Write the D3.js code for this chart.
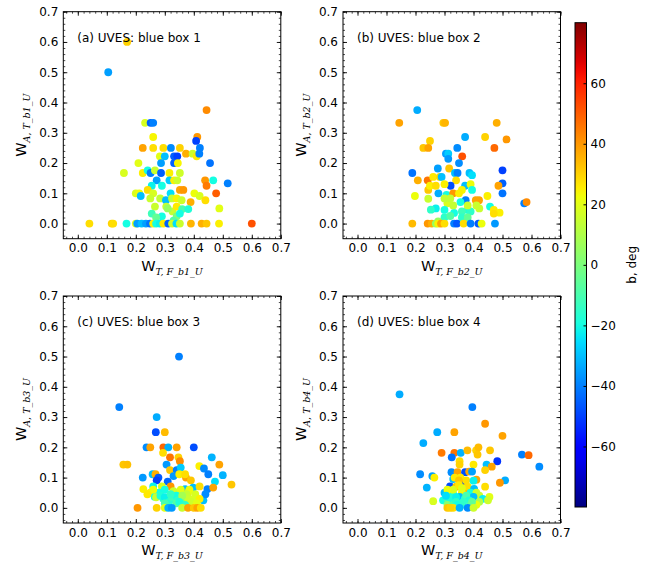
<!DOCTYPE html>
<html>
<head>
<meta charset="utf-8">
<script src="https://cdn.jsdelivr.net/npm/d3@7"></script>
<style>
  body { margin: 0; background: #fff; }
  svg text { font-family: "DejaVu Sans", sans-serif; fill: #000; }
</style>
</head>
<body>
<div id="chart"></div>
<script>
// [W_T,F , W_A,T , b (deg)]
const boxA = [
  [0.17,0.6,30],[0.105,0.5,-35],[0.444,0.375,42],
  [0.232,0.333,18],[0.251,0.333,-45],[0.26,0.333,-40],
  [0.26,0.286,24],[0.412,0.286,40],[0.408,0.273,-50],
  [0.224,0.25,38],[0.26,0.25,28],[0.295,0.25,28],[0.321,0.25,-38],[0.352,0.25,30],[0.421,0.25,-40],
  [0.283,0.222,20],[0.3,0.222,-30],[0.332,0.222,-45],[0.343,0.222,-50],[0.373,0.231,36],[0.396,0.231,16],[0.41,0.222,26],[0.419,0.231,-40],
  [0.209,0.2,20],[0.287,0.2,-35],[0.332,0.2,-45],[0.345,0.2,24],[0.456,0.2,-42],
  [0.159,0.167,18],[0.224,0.167,25],[0.241,0.176,-20],[0.251,0.167,-40],[0.266,0.176,15],[0.287,0.167,-45],[0.316,0.167,25],[0.352,0.167,16],
  [0.272,0.143,-35],[0.316,0.143,-28],[0.332,0.143,25],[0.343,0.143,15],[0.439,0.143,40],[0.467,0.143,-20],
  [0.444,0.125,45],[0.517,0.133,-40],[0.255,0.125,-22],[0.29,0.125,-20],
  [0.241,0.111,28],[0.352,0.111,38],[0.364,0.111,40],[0.2,0.1,18],[0.212,0.1,22],[0.217,0.091,-30],[0.477,0.1,50],[0.402,0.1,22],[0.32,0.1,-25],[0.26,0.1,18],
  [0.25,0.083,15],[0.284,0.083,14],[0.304,0.077,-30],[0.325,0.083,14],[0.341,0.083,24],[0.358,0.077,16],[0.389,0.071,36],[0.42,0.091,18],[0.44,0.077,28],[0.488,0.05,20],
  [0.266,0.056,15],[0.255,0.033,-12],[0.305,0.056,14],[0.327,0.04,14],[0.341,0.056,26],[0.36,0.048,-10],[0.381,0.048,-18],
  [0.29,0.024,-20],[0.341,0.024,0],[0.352,0.033,-20],[0.31,0.05,5],[0.27,0.02,-5],[0.33,0.01,-8],
  [0.04,0,28],[0.117,0,30],[0.122,0,28],[0.168,0,-20],[0.2,0,20],[0.205,0,-35],[0.22,0,-30],[0.235,0,-35],[0.249,0,-42],[0.26,0,25],[0.27,0,-20],
  [0.283,0,-22],[0.295,0,26],[0.312,0,-45],[0.325,0,16],[0.34,0,-25],[0.352,0,15],[0.39,0,35],[0.427,0,36],[0.444,0,32],[0.487,0,25],[0.6,0,52]
];

const boxB = [
  [0.206,0.375,-33],[0.144,0.333,38],[0.296,0.333,32],[0.302,0.333,35],[0.48,0.333,36],
  [0.25,0.273,30],[0.371,0.286,-33],[0.44,0.286,30],[0.514,0.278,40],
  [0.227,0.25,32],[0.244,0.25,38],[0.344,0.25,-38],[0.472,0.25,48],
  [0.305,0.231,-35],[0.313,0.231,-28],[0.313,0.214,-36],[0.361,0.222,52],[0.35,0.2,-38],
  [0.277,0.182,-35],[0.316,0.182,32],[0.189,0.167,-42],[0.336,0.167,-30],[0.345,0.167,-40],[0.386,0.167,-30],[0.395,0.16,-25],[0.5,0.176,-50],
  [0.208,0.143,36],[0.242,0.143,46],[0.261,0.154,26],[0.284,0.154,28],[0.29,0.154,-30],[0.34,0.143,28],[0.5,0.133,-45],[0.486,0.125,38],
  [0.244,0.111,32],[0.321,0.125,-48],[0.371,0.125,-30],[0.39,0.13,22],[0.5,0.1,-42],[0.448,0.091,25],[0.198,0.091,22],[0.244,0.082,15],[0.279,0.1,-33],
  [0.25,0.125,25],[0.27,0.125,28],[0.3,0.13,25],[0.36,0.111,24],[0.395,0.111,-20],
  [0.307,0.095,-20],[0.33,0.1,40],[0.35,0.1,25],[0.373,0.077,-40],[0.408,0.077,38],[0.419,0.077,38],[0.575,0.067,-40],[0.583,0.071,42],
  [0.27,0.05,-22],[0.31,0.067,18],[0.355,0.071,-20],[0.38,0.045,-18],[0.457,0.056,-20],[0.47,0.045,26],[0.49,0.036,25],
  [0.253,0.046,-15],[0.3,0.045,-20],[0.333,0.035,-20],[0.36,0.04,-12],[0.39,0.04,-15],[0.42,0.05,15],[0.47,0.033,28],
  [0.3,0.02,-15],[0.32,0.025,-8],[0.36,0.02,-15],[0.278,0.007,5],[0.38,0.02,-5],[0.33,0.06,14],[0.38,0.06,16],[0.41,0.06,15],[0.3,0.083,14],[0.32,0.083,14],
  [0.189,0,34],[0.242,0,40],[0.256,0,36],[0.27,0,5],[0.278,0,24],[0.288,0,38],[0.3,0,28],[0.333,0,-40],[0.343,0,-46],[0.366,0,28],
  [0.39,0,-40],[0.417,0,-46],[0.428,0,22],[0.474,0,-36]
];

const boxC = [
  [0.349,0.5,-40],[0.143,0.333,-40],[0.272,0.3,-33],[0.269,0.25,-48],[0.3,0.25,34],
  [0.237,0.2,-38],[0.25,0.2,38],[0.295,0.2,48],[0.312,0.2,-32],[0.341,0.2,38],[0.4,0.2,-48],
  [0.294,0.182,28],[0.318,0.167,46],[0.347,0.167,30],[0.352,0.154,42],[0.462,0.167,-32],[0.488,0.143,38],
  [0.157,0.143,32],[0.171,0.143,33],[0.306,0.143,-36],[0.318,0.125,32],[0.341,0.125,-40],[0.355,0.133,-28],[0.419,0.138,25],[0.435,0.13,-38],[0.45,0.111,-40],[0.5,0.108,-32],
  [0.224,0.1,-36],[0.258,0.111,-30],[0.268,0.111,36],[0.278,0.1,-46],[0.272,0.091,-50],[0.31,0.087,-44],[0.33,0.105,-36],[0.373,0.1,38],[0.39,0.091,32],[0.35,0.111,25],[0.37,0.111,28],
  [0.473,0.087,-25],[0.53,0.077,32],
  [0.226,0.062,25],[0.26,0.071,-22],[0.29,0.071,18],[0.32,0.071,40],[0.37,0.062,-30],[0.398,0.067,-30],[0.42,0.071,28],[0.447,0.062,-40],[0.467,0.067,38],[0.433,0.025,-30],[0.44,0.045,-38],
  [0.25,0.05,24],[0.265,0.037,-20],[0.28,0.05,-20],[0.3,0.06,-20],[0.35,0.05,18],[0.38,0.05,25],
  [0.26,0.06,22],[0.24,0.045,26],[0.33,0.055,16],[0.355,0.06,20],[0.385,0.06,22],[0.405,0.045,18],[0.375,0.045,14],
  [0.27,0.035,15],[0.295,0.03,-15],[0.31,0.03,-18],[0.33,0.03,-10],[0.36,0.03,-5],[0.38,0.03,15],[0.4,0.03,18],[0.42,0.03,25],
  [0.285,0.04,-18],[0.3,0.035,-22],[0.315,0.02,-16],[0.325,0.035,-12],[0.34,0.04,-20],[0.345,0.025,-15],[0.36,0.04,8],[0.39,0.02,16],[0.41,0.015,20],
  [0.3,0.015,-10],[0.34,0.015,-8],[0.35,0.02,-18],[0.37,0.01,-15],[0.32,0.045,-14],
  [0.206,0,40],[0.272,0,30],[0.3,0,20],[0.312,0,-32],[0.324,0,-36],[0.36,0,15],[0.38,0,38],[0.4,0,32],[0.412,0,38],[0.424,0,28]
];

const boxD = [
  [0.145,0.375,-33],[0.396,0.333,-40],[0.44,0.278,40],[0.5,0.238,38],[0.275,0.25,-33],[0.334,0.25,38],
  [0.227,0.214,-33],[0.29,0.182,45],[0.334,0.182,46],[0.356,0.182,-32],[0.379,0.19,34],[0.409,0.19,30],[0.417,0.2,34],[0.414,0.176,32],[0.457,0.19,32],[0.567,0.176,-40],[0.59,0.174,48],[0.627,0.136,-38],
  [0.325,0.167,-42],[0.352,0.154,28],[0.352,0.143,30],[0.4,0.143,26],[0.445,0.143,-30],[0.482,0.154,-52],[0.463,0.136,38],[0.44,0.125,30],
  [0.216,0.111,-38],[0.258,0.105,-35],[0.265,0.1,25],[0.324,0.118,-38],[0.345,0.118,38],[0.371,0.118,-48],[0.385,0.12,38],[0.395,0.12,-35],[0.41,0.093,38],[0.509,0.091,-33],[0.491,0.083,40],
  [0.239,0.067,-32],[0.319,0.071,-48],[0.33,0.095,-30],[0.363,0.083,-48],[0.34,0.07,32],[0.37,0.065,38],[0.38,0.07,28],[0.402,0.063,-30],[0.44,0.07,28],[0.335,0.1,26],[0.355,0.1,26],[0.375,0.091,28],[0.35,0.091,32],[0.4,0.09,-22],
  [0.3,0.05,-30],[0.32,0.05,25],[0.33,0.045,-20],[0.36,0.05,24],[0.39,0.05,-20],[0.41,0.05,16],[0.455,0.036,20],
  [0.33,0.06,18],[0.35,0.075,26],[0.31,0.06,22],[0.36,0.065,20],[0.42,0.04,15],
  [0.261,0.022,18],[0.295,0.025,-20],[0.31,0.03,-10],[0.352,0.036,-30],[0.37,0.03,-20],[0.4,0.036,-30],[0.432,0.03,-22],[0.45,0.025,16],
  [0.32,0.03,-18],[0.34,0.035,-22],[0.305,0.04,-25],[0.375,0.04,-10],[0.385,0.025,-18],[0.42,0.02,10],
  [0.31,0.01,2],[0.33,0.01,-8],[0.36,0.01,-18],[0.39,0.01,-8],[0.41,0.01,22],[0.34,0.02,-15],[0.345,0.01,-20],[0.365,0.02,-15],[0.395,0.02,-5],
  [0.31,0,32],[0.33,0,28],[0.352,0,-32],[0.38,0,-38],[0.4,0,16],[0.32,0,30]
];

const panelTitles = ['(a) UVES: blue box 1', '(b) UVES: blue box 2', '(c) UVES: blue box 3', '(d) UVES: blue box 4'];
const boxTags = ['b1', 'b2', 'b3', 'b4'];
const axisTicks = [0.0, 0.1, 0.2, 0.3, 0.4, 0.5, 0.6, 0.7];
const colorTicks = [-60, -40, -20, 0, 20, 40, 60];
const bRange = [-80, 80];

const W = 659, H = 566;
const svg = d3.select('#chart').append('svg').attr('width', W).attr('height', H);

// matplotlib 'jet' segment data
const jetR = d3.scaleLinear().domain([0, 0.35, 0.66, 0.89, 1]).range([0, 0, 1, 1, 0.5]).clamp(true);
const jetG = d3.scaleLinear().domain([0, 0.125, 0.375, 0.64, 0.91, 1]).range([0, 0, 1, 1, 0, 0]).clamp(true);
const jetB = d3.scaleLinear().domain([0, 0.11, 0.34, 0.65, 1]).range([0.5, 1, 1, 0, 0]).clamp(true);
const jet = t => d3.rgb(jetR(t) * 255, jetG(t) * 255, jetB(t) * 255).toString();
const norm = d3.scaleLinear().domain(bRange).range([0, 1]).clamp(true);
const color = b => jet(norm(b));

const cols = [63.3, 343];
const rows = [11.7, 296];
const pw = 217.5, ph = 227;
const minorTicks = d3.range(-0.04, 0.7001, 0.02);

function subLabel(sel, sub) {
  sel.append('tspan').attr('font-size', 14.5).text('W');
  sel.append('tspan')
    .attr('font-family', '"DejaVu Serif", serif')
    .attr('font-style', 'italic')
    .attr('font-size', 9.5)
    .attr('dy', 4)
    .text(sub);
}

[boxA, boxB, boxC, boxD].forEach((data, i) => {
  const x0 = cols[i % 2], y0 = rows[Math.floor(i / 2)];
  const g = svg.append('g').attr('transform', `translate(${x0},${y0})`);
  const x = d3.scaleLinear().domain([-0.05, 0.7]).range([0, pw]);
  const y = d3.scaleLinear().domain([-0.05, 0.7]).range([ph, 0]);

  // points
  g.append('g').selectAll('circle')
    .data(data)
    .join('circle')
    .attr('cx', d => x(d[0]))
    .attr('cy', d => y(d[1]))
    .attr('r', 3.9)
    .attr('fill', d => color(d[2]));

  // inward ticks on all four sides
  const fmt = d3.format('.1f');
  const sides = [
    { ax: d3.axisBottom(x), tr: `translate(0,${ph})`, lab: true },
    { ax: d3.axisLeft(y), tr: null, lab: true },
    { ax: d3.axisTop(x), tr: null, lab: false },
    { ax: d3.axisRight(y), tr: `translate(${pw},0)`, lab: false }
  ];
  sides.forEach(s => {
    const maj = g.append('g').attr('transform', s.tr)
      .call(s.ax.tickValues(axisTicks).tickSize(-4).tickPadding(5)
        .tickFormat(s.lab ? fmt : ''));
    maj.select('.domain').remove();
    maj.selectAll('text').attr('font-size', 12).attr('font-family', '"DejaVu Sans", sans-serif');
    maj.selectAll('line').attr('stroke', '#000').attr('stroke-width', 0.9);
    const mnr = g.append('g').attr('transform', s.tr)
      .call(s.ax.tickValues(minorTicks).tickSize(-2).tickFormat(''));
    mnr.select('.domain').remove();
    mnr.selectAll('line').attr('stroke', '#000').attr('stroke-width', 0.7);
  });

  g.append('rect').attr('width', pw).attr('height', ph)
    .attr('fill', 'none').attr('stroke', '#000').attr('stroke-width', 1);

  g.append('text').attr('x', 14).attr('y', 30).attr('font-size', 12).text(panelTitles[i]);

  const xl = g.append('text').attr('x', pw / 2).attr('y', ph + 32).attr('text-anchor', 'middle');
  subLabel(xl, `T, F_${boxTags[i]}_U`);

  const yl = g.append('text')
    .attr('transform', `translate(${-37},${ph / 2}) rotate(-90)`)
    .attr('text-anchor', 'middle');
  subLabel(yl, `A, T_${boxTags[i]}_U`);
});

// colorbar
const cbX = 575, cbW = 11.5, cbTop = 22.7, cbBot = 507;
const grad = svg.append('defs').append('linearGradient')
  .attr('id', 'jetgrad').attr('x1', 0).attr('y1', 1).attr('x2', 0).attr('y2', 0);
grad.selectAll('stop')
  .data(d3.range(0, 1.0001, 0.02))
  .join('stop')
  .attr('offset', d => d)
  .attr('stop-color', d => jet(d));

const cb = d3.scaleLinear().domain(bRange).range([cbBot, cbTop]);
svg.append('rect').attr('x', cbX).attr('y', cbTop).attr('width', cbW).attr('height', cbBot - cbTop)
  .attr('fill', 'url(#jetgrad)').attr('stroke', '#000').attr('stroke-width', 1);

const cbAxis = svg.append('g').attr('transform', `translate(${cbX + cbW},0)`)
  .call(d3.axisRight(cb).tickValues(colorTicks).tickSize(-3).tickPadding(4)
    .tickFormat(d => d < 0 ? '\u2212' + Math.abs(d) : d));
cbAxis.select('.domain').remove();
cbAxis.selectAll('line').attr('stroke', '#000');
cbAxis.selectAll('text').attr('font-size', 12).attr('font-family', '"DejaVu Sans", sans-serif');

svg.append('text')
  .attr('transform', `translate(636,${(cbTop + cbBot) / 2}) rotate(-90)`)
  .attr('text-anchor', 'middle')
  .attr('font-size', 12)
  .text('b, deg');
</script>
</body>
</html>
